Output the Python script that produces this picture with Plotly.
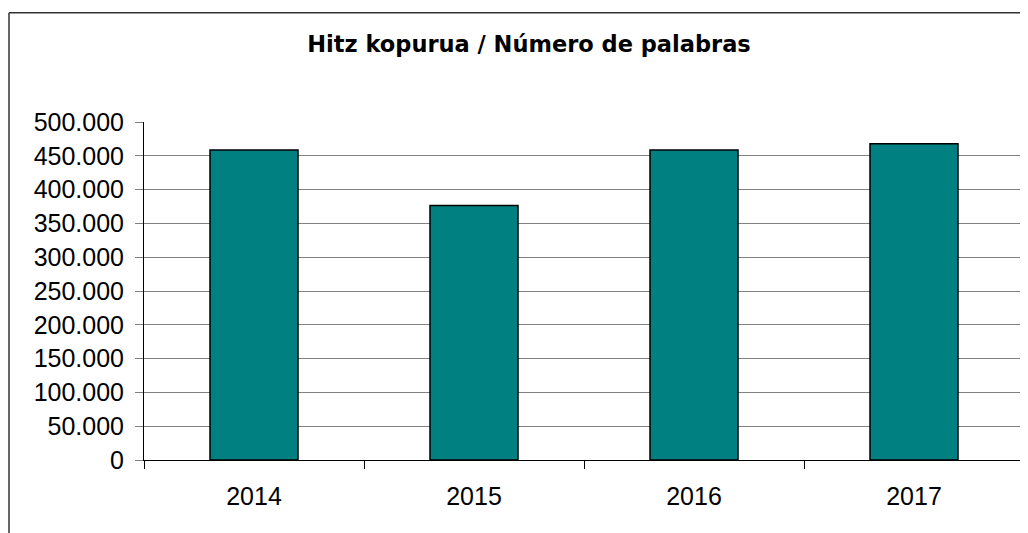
import plotly.graph_objects as go

years = ["2014", "2015", "2016", "2017"]
words = [458600, 376400, 458600, 467700]
y_ticks = [0, 50000, 100000, 150000, 200000, 250000, 300000, 350000, 400000, 450000, 500000]

# The page body has an 8px default margin; work in screen pixels and shift.
OX, OY = 8, 8
W, H = 1028 - OX, 533 - OY
plot_left, plot_right, plot_top, plot_bottom = 144, 1024, 121.5, 460  # screen px
L = plot_left - OX
R = W - (plot_right - OX)
T = plot_top - OY
B = H - (plot_bottom - OY)
pw = W - L - R
ph = H - T - B

def sx(px):
    return (px - OX - L) / pw

def sy(py):
    return (H - B - (py - OY)) / ph

fig = go.Figure()
fig.add_trace(go.Bar(
    x=years, y=words,
    marker=dict(color="#008080", line=dict(color="#000000", width=1.5)),
    hoverinfo="x+y",
))

fig.update_layout(
    width=W, height=H,
    margin=dict(l=L, r=R, t=T, b=B, autoexpand=False),
    paper_bgcolor="white", plot_bgcolor="white",
    separators=",.",
    bargap=0.6,
    showlegend=False,
    font=dict(family="Liberation Sans, Arial, sans-serif", color="black"),
    title=dict(
        text="<b>Hitz kopurua / Número de palabras</b>",
        font=dict(size=22.5, family="DejaVu Sans, sans-serif", color="black"),
        x=(529 - OX) / W, xanchor="center", xref="container",
        y=1 - (44 - OY) / H, yanchor="middle", yref="container",
    ),
    xaxis=dict(
        type="category",
        showline=True, linecolor="black", linewidth=1,
        ticks="outside", tickson="boundaries", ticklen=8, tickcolor="black", tickwidth=1,
        tickfont=dict(size=25),
        ticklabelstandoff=14,
        showgrid=False,
    ),
    yaxis=dict(
        range=[0, 500000],
        tickvals=y_ticks,
        tickformat=",.0f",
        showline=True, linecolor="black", linewidth=1,
        ticks="outside", ticklen=8, tickcolor="#808080", tickwidth=1,
        tickfont=dict(size=25),
        ticklabelstandoff=6,
        showgrid=True, gridcolor="#808080", gridwidth=1,
        zeroline=False,
    ),
    shapes=[
        dict(type="line", xref="paper", yref="paper", x0=1, x1=1, y0=0, y1=1,
             line=dict(color="#808080", width=1.5)),
        dict(type="line", xref="paper", yref="paper",
             x0=sx(9), x1=sx(1040), y0=sy(12), y1=sy(12),
             line=dict(color="#333333", width=1.5)),
        dict(type="line", xref="paper", yref="paper",
             x0=sx(9), x1=sx(9), y0=sy(12), y1=sy(545),
             line=dict(color="#333333", width=1.5)),
    ],
)

fig.write_html("out.html")
